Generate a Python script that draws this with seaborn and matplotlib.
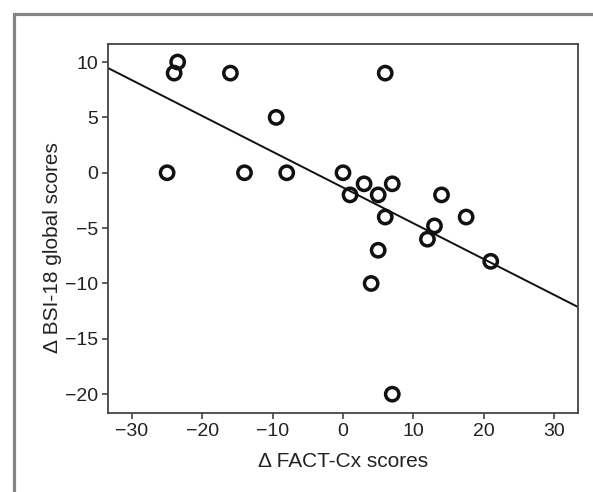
import pandas as pd
import seaborn as sns
import matplotlib.pyplot as plt
from matplotlib.patches import Rectangle

# change scores
fact_cx = [-25, -23.5, -24, -16, -9.5, -14, -8, 0, 3, 7, 1, 5, 14, 6,
           17.5, 13, 12, 5, 21, 4, 7, 6]
bsi_18 = [0, 10, 9, 9, 5, 0, 0, 0, -1, -1, -2, -2, -2, -4,
          -4, -4.8, -6, -7, -8, -10, -20, 9]
x_ticks = [-30, -20, -10, 0, 10, 20, 30]
y_ticks = [10, 5, 0, -5, -10, -15, -20]

df = pd.DataFrame({'fact': fact_cx, 'bsi': bsi_18})

sns.set_style('ticks')
plt.rcParams['font.family'] = ['Liberation Sans', 'DejaVu Sans']

fig = plt.figure(figsize=(5.93, 4.92), dpi=100)
ax = fig.add_axes([108/593, 1 - 413/492, 470/593, 369/492])

ax.set_xlim(-33.4, 33.4)
ax.set_ylim(-21.7, 11.63)

sns.regplot(x='fact', y='bsi', data=df, ax=ax, ci=None, truncate=False,
            color='black',
            scatter_kws=dict(s=92, facecolors='none', edgecolors='#111111',
                             linewidths=2.5, alpha=1, zorder=3),
            line_kws=dict(color='#111111', lw=1.4, zorder=2))

ax.set_xlim(-33.4, 33.4)
ax.set_ylim(-21.7, 11.63)
ax.set_xticks(x_ticks)
ax.set_yticks(y_ticks)
ax.tick_params(labelsize=14, colors='#333333', labelcolor='#222222',
               length=4, width=1.1, direction='out', pad=3)
for s in ax.spines.values():
    s.set_color('#444444')
    s.set_linewidth(1.3)

ax.set_xlabel('\u0394 FACT-Cx scores', fontsize=15, color='#222222', labelpad=9)
ax.set_ylabel('\u0394 BSI-18 global scores', fontsize=15, color='#222222')
ax.yaxis.set_label_coords(-0.098, 0.447)

# grey frame around the figure (cut off on the right and bottom)
fig.patches.append(Rectangle((14/593, -0.1), 2, 1 - 14/492 + 0.1,
                             transform=fig.transFigure, fill=False,
                             edgecolor='#858585', lw=2.3))

plt.savefig('out.png', dpi=100)
